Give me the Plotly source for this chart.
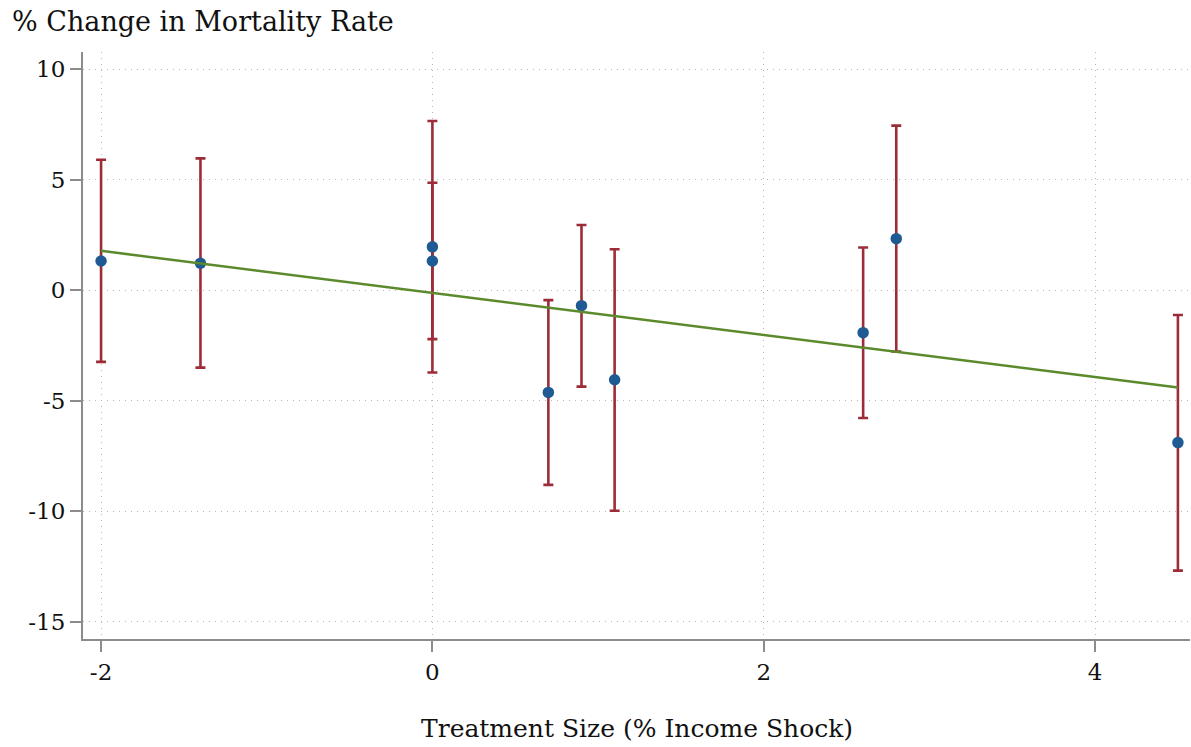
import plotly.graph_objects as go

# Point estimates with confidence intervals, by treatment size
treatment = [-2.0, -1.4, 0.0, 0.0, 0.7, 0.9, 1.1, 2.6, 2.8, 4.5]
estimate = [1.32, 1.22, 1.96, 1.32, -4.62, -0.70, -4.05, -1.92, 2.33, -6.89]
ci_upper = [5.90, 5.96, 7.65, 4.86, -0.45, 2.95, 1.85, 1.93, 7.44, -1.12]
ci_lower = [-3.24, -3.50, -3.72, -2.21, -8.80, -4.36, -9.97, -5.78, -2.77, -12.68]

# Linear fit across the estimates
fit_x = [-2.0, 4.5]
fit_y = [1.78, -4.40]

x_ticks = [-2, 0, 2, 4]
x_tick_labels = ["-2", "0", "2", "4"]
y_ticks = [10, 5, 0, -5, -10, -15]
y_tick_labels = ["10", "5", "0", "-5", "-10", "-15"]

err_plus = [u - e for u, e in zip(ci_upper, estimate)]
err_minus = [e - l for e, l in zip(estimate, ci_lower)]

RED = "#9c2d38"
BLUE = "#1f5a93"
GREEN = "#5b8a2c"
AXIS = "#8c8c8c"
FONT = "DejaVu Serif, serif"

fig = go.Figure()
fig.add_trace(go.Scatter(
    x=treatment, y=estimate, mode="markers",
    marker=dict(size=11.5, color=BLUE, line=dict(width=0)),
    error_y=dict(type="data", symmetric=False, array=err_plus,
                 arrayminus=err_minus, color=RED, thickness=2.6, width=5),
    showlegend=False,
))
fig.add_trace(go.Scatter(
    x=fit_x, y=fit_y, mode="lines",
    line=dict(color=GREEN, width=2.5), showlegend=False,
))

fig.update_layout(
    width=1191, height=747,
    margin=dict(l=83, r=1, t=52, b=108),
    paper_bgcolor="white", plot_bgcolor="white",
    font=dict(family=FONT, size=23, color="#111111"),
    title=dict(text="% Change in Mortality Rate", x=12 / 1191, xanchor="left",
               xref="container", yref="container", y=1 - 22 / 747,
               yanchor="middle", font=dict(family=FONT, size=27, color="#111111")),
    xaxis=dict(
        range=[-2.109, 4.573], tickvals=x_ticks, ticktext=x_tick_labels,
        showline=True, linecolor=AXIS, linewidth=2,
        ticks="outside", ticklen=11, tickwidth=2, tickcolor=AXIS,
        showgrid=True, gridcolor="#b5b5b5", gridwidth=1, griddash="1px,5px",
        zeroline=False, tickfont=dict(size=23),
    ),
    yaxis=dict(
        range=[-15.77, 10.77], tickvals=y_ticks, ticktext=y_tick_labels,
        showline=True, linecolor=AXIS, linewidth=2,
        ticks="outside", ticklen=11, tickwidth=2, tickcolor=AXIS,
        showgrid=True, gridcolor="#b5b5b5", gridwidth=1, griddash="1px,5px",
        zeroline=False, tickfont=dict(size=23),
    ),
    annotations=[dict(
        text="Treatment Size (% Income Shock)", xref="paper", yref="paper",
        x=0.5, y=-89 / 587, xanchor="center", yanchor="middle",
        showarrow=False, font=dict(family=FONT, size=25, color="#111111"),
    )],
)

fig.write_html("out.html")
